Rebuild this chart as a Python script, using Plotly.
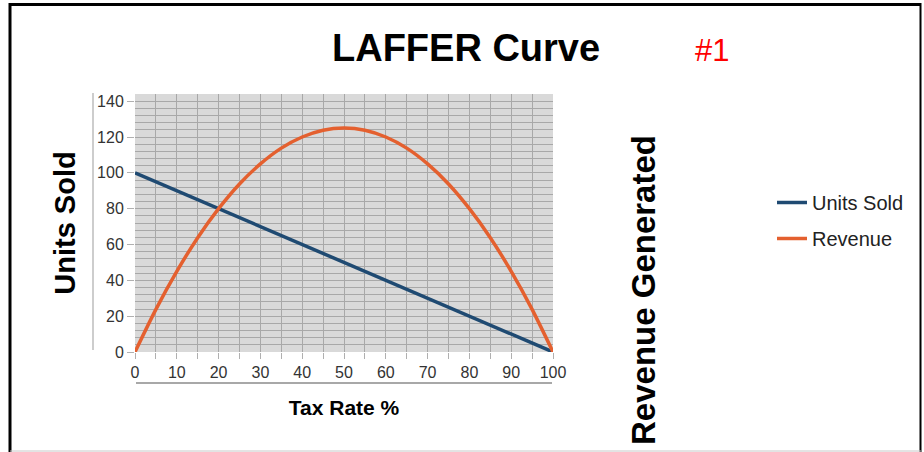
import plotly.graph_objects as go

# ---- data ----
tax_rate = [0, 5, 10, 15, 20, 25, 30, 35, 40, 45, 50, 55, 60, 65, 70, 75, 80, 85, 90, 95, 100]
units_sold = [100, 95, 90, 85, 80, 75, 70, 65, 60, 55, 50, 45, 40, 35, 30, 25, 20, 15, 10, 5, 0]
revenue = [0, 23.8, 45, 63.8, 80, 93.8, 105, 113.8, 120, 123.8, 125,
           123.8, 120, 113.8, 105, 93.8, 80, 63.8, 45, 23.8, 0]
x_ticks = [0, 10, 20, 30, 40, 50, 60, 70, 80, 90, 100]
y_ticks = [0, 20, 40, 60, 80, 100, 120, 140]

# ---- layout constants (pixels) ----
W, H = 924, 452
L, R, T, B = 135, 553, 94, 352
FONT = "Liberation Sans, Arial, sans-serif"
BLUE = "#1f4a72"
ORANGE = "#e4602f"


def px(x):
    return (x - L) / (R - L)


def py(y):
    return (B - y) / (B - T)


fig = go.Figure()
fig.add_trace(go.Scatter(x=tax_rate, y=units_sold, name="Units Sold", mode="lines",
                         legendgroup="a", line=dict(color=BLUE, width=3.5)))
fig.add_trace(go.Scatter(x=tax_rate, y=revenue, name="Revenue", mode="lines",
                         legendgroup="b", line=dict(color=ORANGE, width=3.5, shape="spline",
                                                    smoothing=0.8)))

grid = "#a8a8a8"
fig.update_xaxes(range=[0, 100], tickvals=x_ticks, showgrid=True, gridcolor=grid, gridwidth=1,
                 minor=dict(dtick=5, showgrid=True, gridcolor=grid, gridwidth=1,
                            ticks="outside", ticklen=6, tickcolor="#b0b0b0"),
                 ticks="outside", ticklen=6, tickcolor="#b0b0b0", zeroline=False, showline=False,
                 tickfont=dict(family=FONT, size=16, color="#333333"),
                 title=dict(text="<b>Tax Rate %</b>", font=dict(family=FONT, size=21, color="#000"),
                            standoff=20))
fig.update_yaxes(range=[0, 144], tickvals=y_ticks, showgrid=True, gridcolor=grid, gridwidth=1,
                 minor=dict(dtick=4, showgrid=True, gridcolor=grid, gridwidth=1),
                 ticks="outside", ticklen=7, tickcolor="#b0b0b0", zeroline=False, showline=False,
                 tickfont=dict(family=FONT, size=16, color="#333333"),
                 title=dict(text="<b>Units Sold</b>", font=dict(family=FONT, size=29, color="#000"),
                            standoff=12))

shapes = [
    # outer frame
    dict(type="line", xref="paper", yref="paper", x0=px(9), x1=px(921), y0=py(4.5), y1=py(4.5),
         line=dict(color="#000", width=3)),
    dict(type="line", xref="paper", yref="paper", x0=px(10), x1=px(10), y0=py(3), y1=py(452),
         line=dict(color="#000", width=3)),
    dict(type="line", xref="paper", yref="paper", x0=px(920.5), x1=px(920.5), y0=py(3), y1=py(452),
         line=dict(color="#000", width=2)),
    dict(type="line", xref="paper", yref="paper", x0=px(10), x1=px(921), y0=py(451), y1=py(451),
         line=dict(color="#c8c8c8", width=1)),
    # axis lines offset from plot area
    dict(type="line", xref="paper", yref="paper", x0=px(93), x1=px(93), y0=py(93), y1=py(350),
         line=dict(color="#bdbdbd", width=1.5)),
    dict(type="line", xref="paper", yref="paper", x0=px(136), x1=px(552), y0=py(383), y1=py(383),
         line=dict(color="#a8a8a8", width=2)),
]

annotations = [
    dict(text="<b>LAFFER Curve</b>", xref="paper", yref="paper", x=px(466), y=py(48),
         showarrow=False, font=dict(family=FONT, size=38, color="#000"), xanchor="center", yanchor="middle"),
    dict(text="#1", xref="paper", yref="paper", x=px(712), y=py(51),
         showarrow=False, font=dict(family=FONT, size=31, color="#ff0000"), xanchor="center", yanchor="middle"),
    dict(text="<b>Revenue Generated</b>", xref="paper", yref="paper", x=px(643), y=py(290),
         showarrow=False, textangle=-90, font=dict(family=FONT, size=33, color="#000"),
         xanchor="center", yanchor="middle"),
]

fig.update_layout(
    width=W, height=H,
    margin=dict(l=L, r=W - R, t=T, b=H - B, autoexpand=False),
    paper_bgcolor="white", plot_bgcolor="#d9d9d9",
    shapes=shapes, annotations=annotations,
    showlegend=True,
    legend=dict(x=px(772), y=py(183), xanchor="left", yanchor="top", bgcolor="rgba(0,0,0,0)",
                font=dict(family=FONT, size=20, color="#222"), itemwidth=30,
                traceorder="grouped", tracegroupgap=7),
)

fig.write_html("out.html", config={"displayModeBar": False},
               post_script="document.body.style.margin='0';")
